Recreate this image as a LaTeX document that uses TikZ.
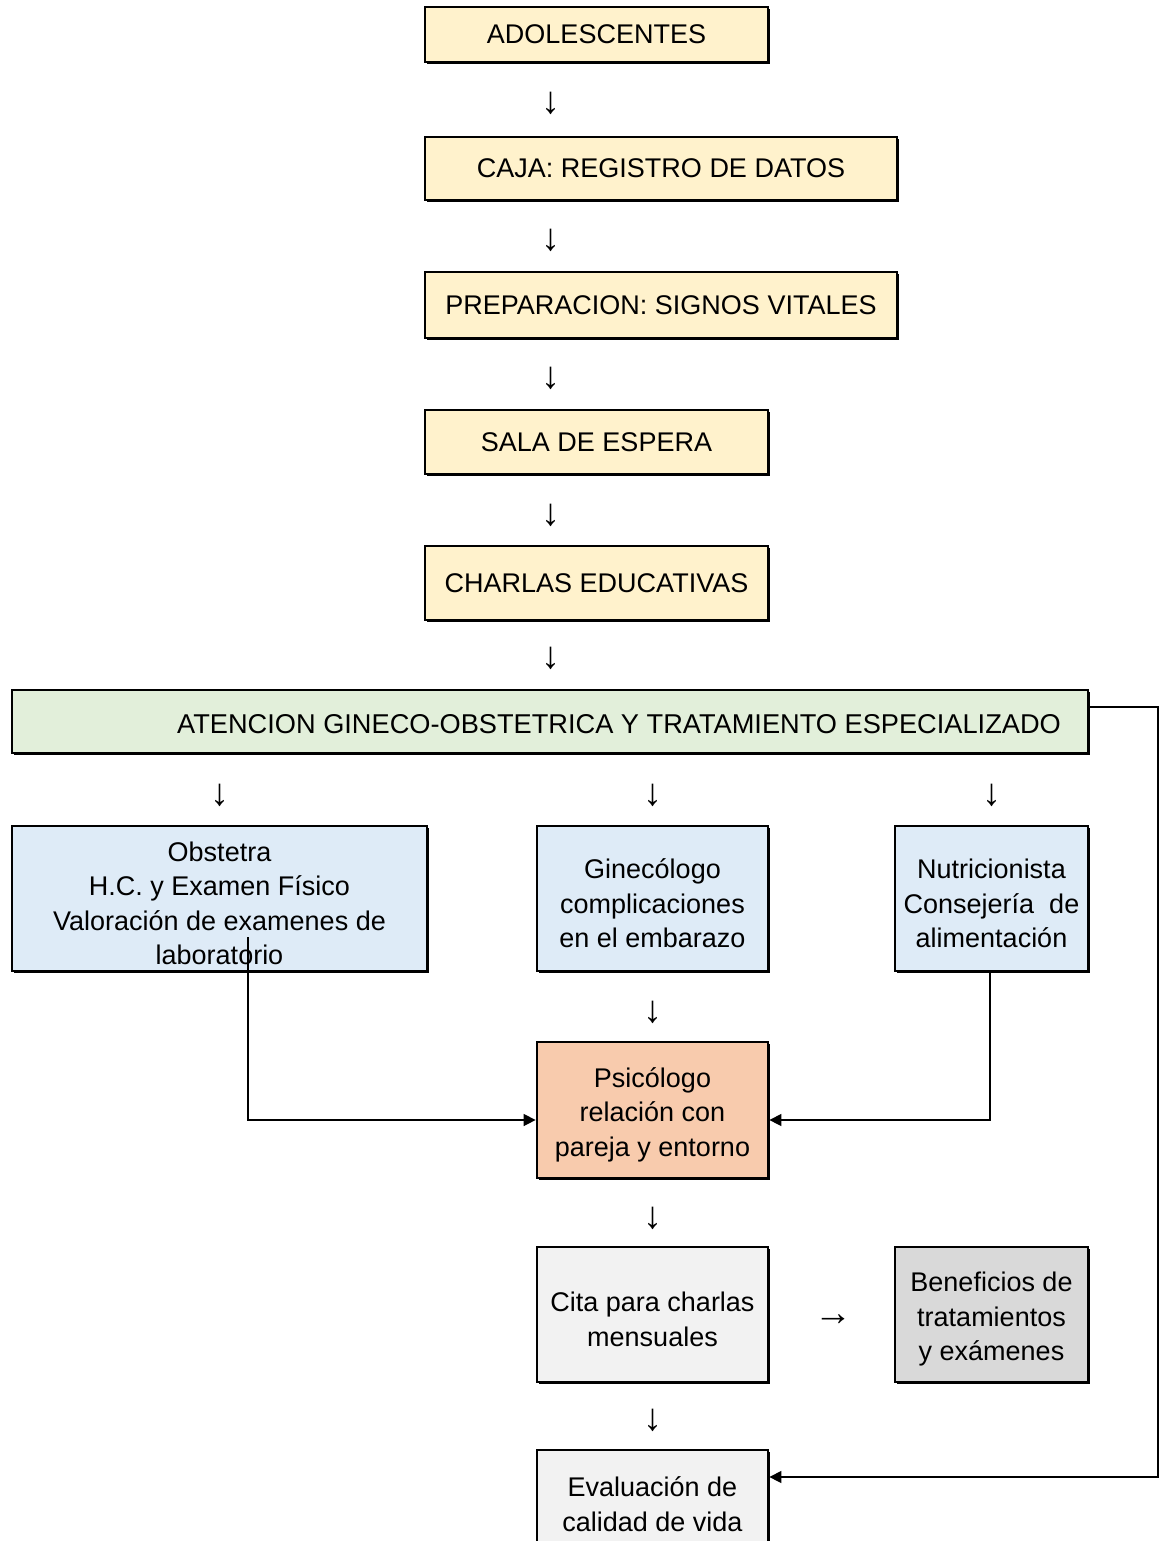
\documentclass[tikz,border=0pt]{standalone}
\usepackage{fontspec}
\setmainfont{Liberation Sans}
\usetikzlibrary{arrows.meta,shadows}
\definecolor{cream}{HTML}{FFF2CC}
\definecolor{mint}{HTML}{E2EFDA}
\definecolor{pale}{HTML}{DEEBF7}
\definecolor{peach}{HTML}{F8CBAD}
\definecolor{lgray}{HTML}{F2F2F2}
\definecolor{mgray}{HTML}{D9D9D9}
\newcommand{\lowstrut}{\rule{0pt}{14.7pt}}
\begin{document}
\begin{tikzpicture}[x=0.5pt,y=-0.5pt,
  box/.style={draw=black,line width=1.4pt,inner sep=0pt,align=center,
    font=\fontsize{13.5}{17.25}\selectfont,
    general shadow={fill=black,shadow xshift=0.8pt,shadow yshift=-0.8pt}},
  txt/.style={inner sep=0pt,align=center,font=\fontsize{13.5}{17.25}\selectfont},
  glyph/.style={inner sep=0pt,font=\fontsize{19}{20}\selectfont},
  conn/.style={line width=0.75pt,-{Triangle[length=6pt,width=6pt]}}]
\useasboundingbox (0,0) rectangle (1165,1541);
\clip (0,0) rectangle (1165,1541);
\fill[white] (0,0) rectangle (1165,1541);

% top chain
\node[box,fill=cream,minimum width=171.5pt,minimum height=27.5pt] (adol) at (596.5,34.5) {ADOLESCENTES};
\node[box,fill=cream,minimum width=236pt,minimum height=31.5pt] (caja) at (661,168.5) {CAJA: REGISTRO DE DATOS};
\node[box,fill=cream,minimum width=236pt,minimum height=33pt] (prep) at (661,305) {PREPARACION: SIGNOS VITALES};
\node[box,fill=cream,minimum width=171.5pt,minimum height=32pt] (sala) at (596.5,442) {SALA DE ESPERA};
\node[box,fill=cream,minimum width=171.5pt,minimum height=37pt] (charl) at (596.5,583) {CHARLAS EDUCATIVAS};

\node[glyph] (a1) at (551,103) {↓};
\node[glyph] (a2) at (551,240) {↓};
\node[glyph] (a3) at (551,378) {↓};
\node[glyph] (a4) at (551,515) {↓};
\node[glyph] (a5) at (551,658) {↓};

% green
\node[box,fill=mint,minimum width=538pt,minimum height=31.5pt] (aten) at (550,721.5) {};
\node[txt,font=\fontsize{13.6}{16}\selectfont] (atent) at (619,724) {ATENCION GINECO-OBSTETRICA Y TRATAMIENTO ESPECIALIZADO};

\node[glyph] (a6) at (220,795) {↓};
\node[glyph] (a7) at (653,795) {↓};
\node[glyph] (a8) at (992,795) {↓};

% specialists
\node[box,fill=pale,minimum width=207.5pt,minimum height=72.5pt] (obs) at (219.5,898.5) {\lowstrut Obstetra\\H.C. y Examen Físico\\Valoración de examenes de\\laboratorio};
\node[box,fill=pale,minimum width=115.5pt,minimum height=72.5pt] (gin) at (652.5,898.5) {\lowstrut Ginecólogo\\complicaciones\\en el embarazo};
\node[box,fill=pale,minimum width=96.5pt,minimum height=72.5pt] (nut) at (991.5,898.5) {\lowstrut Nutricionista\\Consejería\ \ de\\alimentación};

\node[glyph] (a9) at (653,1012) {↓};

\node[box,fill=peach,minimum width=115.5pt,minimum height=68pt] (psi) at (652.5,1110) {\lowstrut Psicólogo\\relación con\\pareja y entorno};

\node[glyph] (a10) at (653,1218) {↓};

\node[box,fill=lgray,minimum width=115.5pt,minimum height=67.5pt] (cita) at (652.5,1314.5) {\lowstrut Cita para charlas\\mensuales};
\node[glyph] (a11) at (833,1320) {→};
\node[box,fill=mgray,minimum width=96.5pt,minimum height=67.5pt] (ben) at (991.5,1314.5) {\lowstrut Beneficios de\\tratamientos\\y exámenes};

\node[glyph] (a12) at (653,1420) {↓};

\node[box,fill=lgray,minimum width=115.5pt,minimum height=67.5pt] (eval) at (652.5,1517.5) {};
\node[txt] (evalt) at (652.5,1504) {Evaluación de\\calidad de vida};

% connectors
\coordinate (o1) at (248,937);
\coordinate (o2) at (248,1120);
\draw[conn] (o1) -- (o2) -- (o2 -| psi.west);
\draw[conn] (nut.south -| 990,0) -- (990,1120) -- (o2 -| psi.east);
\coordinate (g1) at (1158,707);
\coordinate (g2) at (1158,1477);
\draw[conn] (aten.east |- g1) -- (g1) -- (g2) -- (g2 -| eval.east);
\end{tikzpicture}
\end{document}
